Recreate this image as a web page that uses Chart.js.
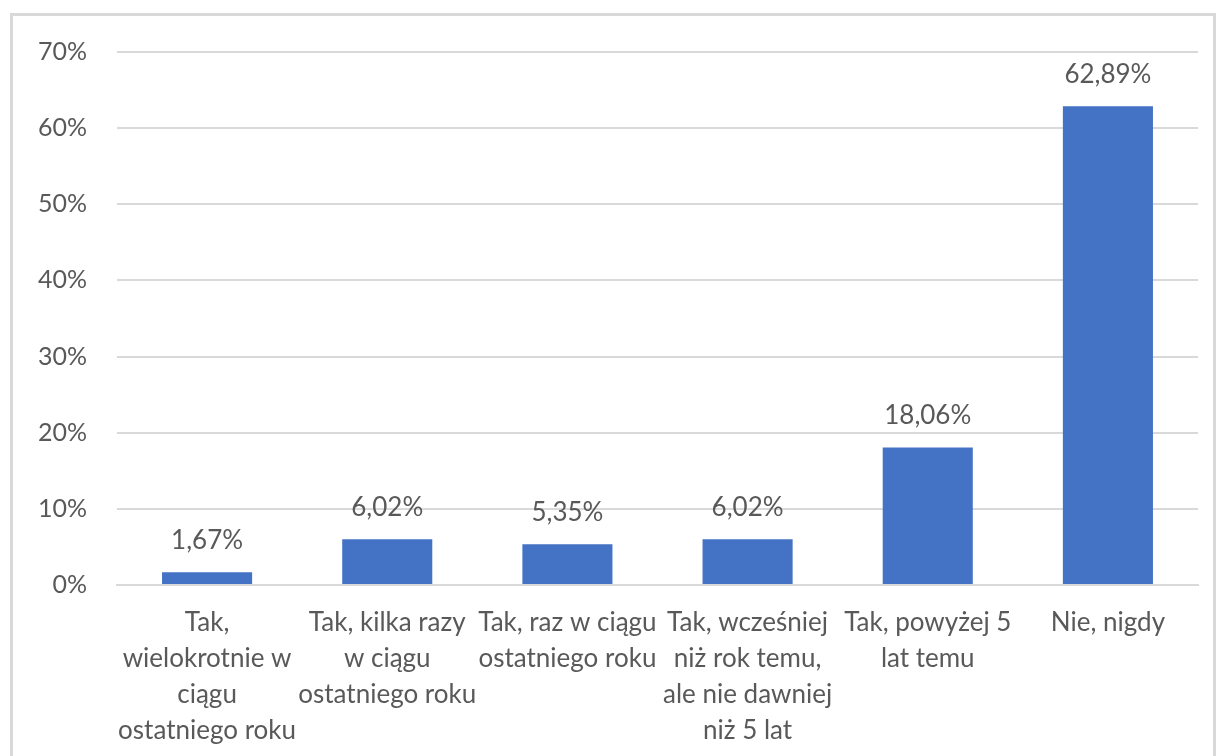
<!DOCTYPE html>
<html>
<head>
<meta charset="utf-8">
<script src="https://cdn.jsdelivr.net/npm/chart.js@4/dist/chart.umd.min.js"></script>
<style>
  html, body { margin: 0; padding: 0; background: #fff; overflow: hidden; }
  #wrap { position: relative; width: 1224px; height: 756px; }
  #frame {
    position: absolute; left: 10px; top: 13px; width: 1206px; height: 760px;
    border: 3px solid #d9d9d9; box-sizing: border-box;
  }
  #chart { position: absolute; left: 0; top: 0; }
</style>
</head>
<body>
<div id="wrap">
  <div id="frame"></div>
  <canvas id="chart" width="1224" height="756"></canvas>
</div>
<script>
const categories = [
  ["Tak,", "wielokrotnie w", "ciągu", "ostatniego roku"],
  ["Tak, kilka razy", "w ciągu", "ostatniego roku"],
  ["Tak, raz w ciągu", "ostatniego roku"],
  ["Tak, wcześniej", "niż rok temu,", "ale nie dawniej", "niż 5 lat"],
  ["Tak, powyżej 5", "lat temu"],
  ["Nie, nigdy"]
];
const shares = [1.67, 6.02, 5.35, 6.02, 18.06, 62.89];
const yTicks = [0, 10, 20, 30, 40, 50, 60, 70];

const FONT = "Lato, 'Open Sans', sans-serif";
const TEXT = "#595959";

// value labels over each bar, Polish decimal comma
const barLabels = {
  id: "barLabels",
  afterDatasetsDraw(chart) {
    const ctx = chart.ctx;
    const meta = chart.getDatasetMeta(0);
    ctx.save();
    ctx.font = "26px " + FONT;
    ctx.fillStyle = TEXT;
    ctx.textAlign = "center";
    ctx.textBaseline = "alphabetic";
    meta.data.forEach((bar, i) => {
      const txt = shares[i].toFixed(2).replace(".", ",") + "%";
      ctx.fillText(txt, bar.x, bar.y - 23);
    });
    ctx.restore();
  }
};

new Chart(document.getElementById("chart"), {
  type: "bar",
  data: {
    labels: categories,
    datasets: [{
      data: shares,
      backgroundColor: "#4472c4",
      barPercentage: 0.5,
      categoryPercentage: 1.0
    }]
  },
  options: {
    responsive: false,
    animation: false,
    layout: { padding: { top: 52, right: 26, left: 0, bottom: 0 } },
    plugins: {
      legend: { display: false },
      tooltip: { enabled: false }
    },
    scales: {
      x: {
        afterFit(scale) { scale.height = 171; },
        grid: { display: false },
        border: { color: "#d9d9d9", width: 2 },
        ticks: {
          color: TEXT,
          font: { family: FONT, size: 26, lineHeight: 1.38 },
          maxRotation: 0,
          autoSkip: false,
          padding: 12
        }
      },
      y: {
        min: 0,
        max: 70,
        afterFit(scale) { scale.width = 117; },
        afterBuildTicks(axis) {
          axis.ticks = yTicks.map(v => ({ value: v }));
        },
        grid: { color: "#d9d9d9", lineWidth: 2, drawTicks: false },
        border: { display: false },
        ticks: {
          color: TEXT,
          font: { family: FONT, size: 25 },
          padding: 30,
          callback: v => v + "%"
        }
      }
    }
  },
  plugins: [barLabels]
});
</script>
</body>
</html>
